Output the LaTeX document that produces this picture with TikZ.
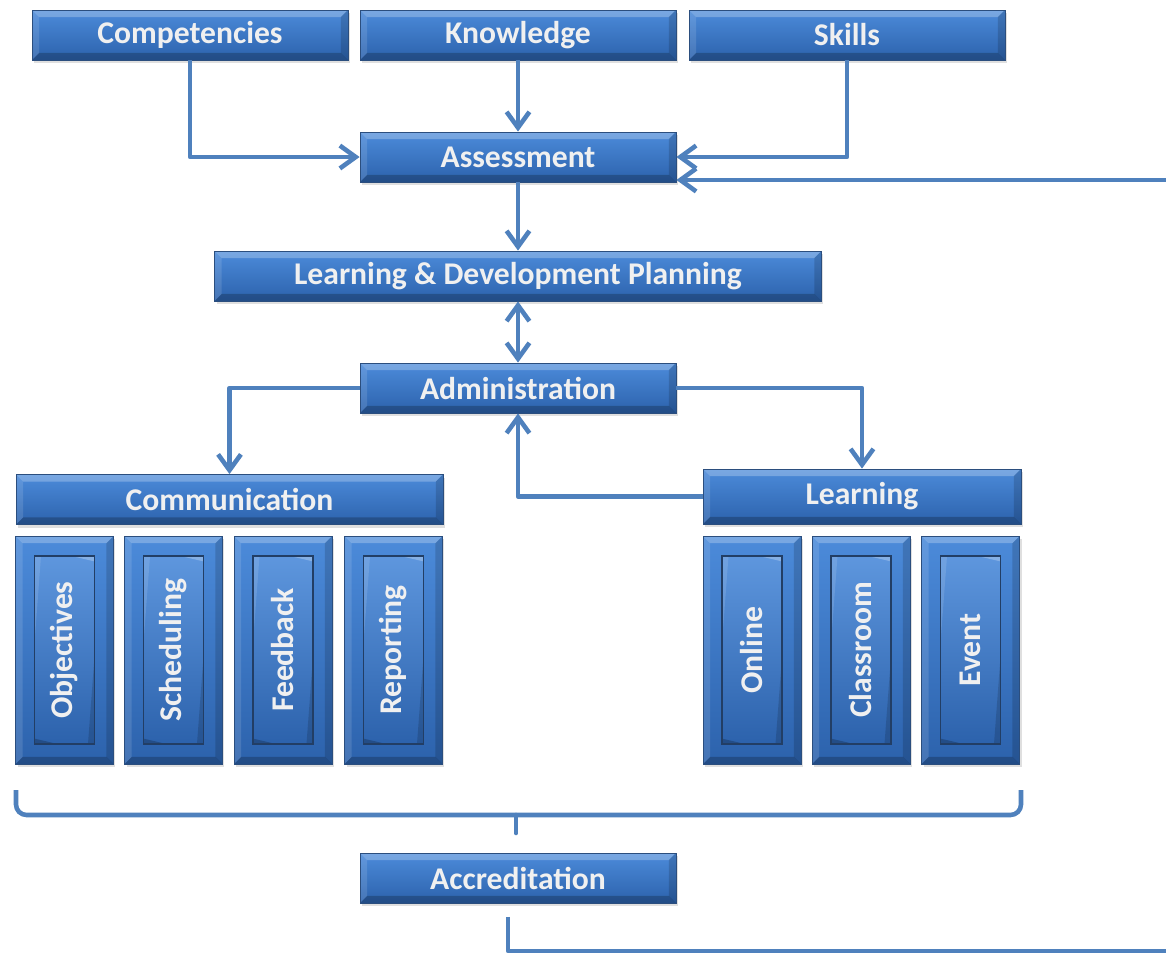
\documentclass[tikz,border=0pt]{standalone}
\usepackage{fontspec}
\setmainfont{Carlito}
\usepackage{tikz}
\usetikzlibrary{arrows.meta}
\tikzset{>=latex}
\usetikzlibrary{shadows}

\definecolor{bartop}{HTML}{4C8BDA}
\definecolor{barbot}{HTML}{2C62AC}
\definecolor{baredge}{HTML}{2B4E7E}
\definecolor{linkblue}{HTML}{4F81BD}

\tikzset{
  bevel/.style={path picture={
    \fill[white,opacity=0.25] (path picture bounding box.north west) -- (path picture bounding box.north east)
      -- ([shift={(-4pt,-4pt)}]path picture bounding box.north east) -- ([shift={(4pt,-4pt)}]path picture bounding box.north west) -- cycle;
    \fill[white,opacity=0.12] (path picture bounding box.north west) -- (path picture bounding box.south west)
      -- ([shift={(4pt,4pt)}]path picture bounding box.south west) -- ([shift={(4pt,-4pt)}]path picture bounding box.north west) -- cycle;
    \fill[black,opacity=0.22] (path picture bounding box.south west) -- (path picture bounding box.south east)
      -- ([shift={(-4pt,4pt)}]path picture bounding box.south east) -- ([shift={(4pt,4pt)}]path picture bounding box.south west) -- cycle;
    \fill[black,opacity=0.15] (path picture bounding box.north east) -- (path picture bounding box.south east)
      -- ([shift={(-4pt,4pt)}]path picture bounding box.south east) -- ([shift={(-4pt,-4pt)}]path picture bounding box.north east) -- cycle;
  }},
  bar/.style={draw=baredge, line width=0.5pt, top color=bartop, bottom color=barbot, bevel,
    text=white!94!black, font=\bfseries\fontsize{18}{20}\selectfont, inner sep=0pt,
    minimum height=1cm, drop shadow={opacity=0.25, shadow xshift=0.04cm, shadow yshift=-0.06cm}},
  wide/.style={bar, minimum width=6.32cm},
  column/.style={bar, minimum width=1.96cm, minimum height=4.56cm},
  tile/.style={draw=baredge!80!black, line width=0.8pt, top color=bartop!90!white, bottom color=barbot, bevel,
    text=white!94!black, font=\bfseries\fontsize{18}{20}\selectfont, inner sep=0pt,
    rotate=90, minimum width=3.76cm, minimum height=1.2cm},
  link/.style={draw=linkblue, line width=2.6pt, line join=round, -{Straight Barb[length=9pt,width=13pt]}},
  feed/.style={draw=linkblue, line width=2.6pt, line join=round},
}

\begin{document}
\begin{tikzpicture}[x=0.02cm, y=-0.02cm]
    \useasboundingbox (0,0) rectangle (1166,954);
    \fill[white] (0,0) rectangle (1166,954);

    \node[wide] (comp) at (190,35) {Competencies};
    \node[wide] (know) at (518,35) {Knowledge};
    \node[wide] (skill) at (847,35) {Skills};
    \node[wide] (assess) at (518,157) {Assessment};
    \node[bar, minimum width=12.14cm] (plan) at (518,276) {Learning \& Development Planning};
    \node[wide] (admin) at (518,388) {Administration};
    \node[bar, minimum width=8.54cm] (comm) at (229.5,499.5) {Communication};
    \node[bar, minimum width=6.36cm, minimum height=1.1cm] (learn) at (862,496.5) {Learning};
    \node[wide] (accr) at (518,878) {Accreditation};

    % columns under Communication and Learning
    \foreach \x/\name/\txt in {64.5/obj/Objectives, 173.5/sched/Scheduling, 283/feed/Feedback,
        393.5/report/Reporting, 752/online/Online, 861/class/Classroom, 970.5/event/Event} {
      \node[column] (\name) at (\x,650) {};
      \node[tile] (\name-in) at (\name) {\txt};
    }

    \coordinate (loopin) at (1166,180);
    \coordinate (loopout) at (1166,951);

    \draw[link] (comp.south) |- (assess.west);
    \draw[link] (know.south) -- (assess.north);
    \draw[link] (skill.south) |- (assess.east);
    \draw[link] (loopin) -- (assess.east |- loopin);
    \draw[link] (assess.south) -- (plan.north);
    \draw[link, {Straight Barb[length=9pt,width=13pt]}-{Straight Barb[length=9pt,width=13pt]}] (plan.south) -- (admin.north);
    \draw[link] (admin.west) -| (comm.north);
    \draw[link] (admin.east) -| (learn.north);
    \draw[link] (learn.west) -| (admin.south);

    % bracket over both groups
    \coordinate (brl) at (16,790);
    \coordinate (brr) at (1021,790);
    \coordinate (brm) at (516,815);
    \draw[feed, rounded corners=6pt] (brl) |- (brm) -| (brr);
    \draw[feed, line cap=round] (brm) -- ++(0,18);

    \draw[feed] ([xshift=-0.2cm,yshift=-0.27cm]accr.south) |- (loopout);
\end{tikzpicture}
\end{document}
